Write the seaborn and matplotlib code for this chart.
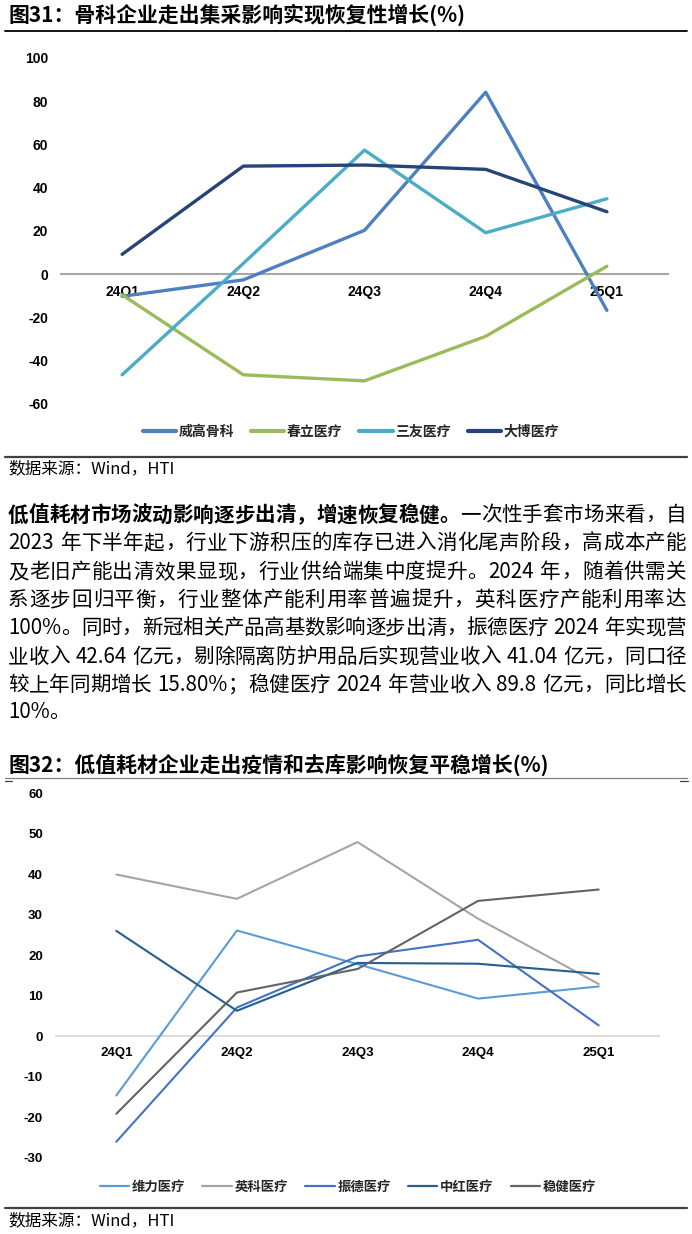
import numpy as np
import pandas as pd
import matplotlib
matplotlib.use("Agg")
import matplotlib.pyplot as plt
from matplotlib.lines import Line2D
import seaborn as sns

# ==========================
# Data
# ==========================
quarters = ["24Q1", "24Q2", "24Q3", "24Q4", "25Q1"]

ortho_names = ["威高骨科", "春立医疗", "三友医疗", "大博医疗"]
weigao = [-10.2, -2.6, 20.3, 84.2, -16.7]
chunli = [-9.5, -46.5, -49.3, -28.7, 3.7]
sanyou = [-46.5, 5.0, 57.4, 19.2, 34.9]
dabo = [9.2, 50.0, 50.5, 48.5, 28.9]

low_names = ["维力医疗", "英科医疗", "振德医疗", "中红医疗", "稳健医疗"]
weili = [-14.6, 26.1, 17.8, 9.3, 12.3]
yingke = [39.9, 33.9, 47.9, 29.0, 12.9]
zhende = [-26.0, 7.1, 19.7, 23.8, 2.7]
zhonghong = [26.0, 6.3, 18.1, 17.9, 15.4]
wenjian = [-19.1, 10.8, 16.6, 33.4, 36.2]

title1 = "图31：骨科企业走出集采影响实现恢复性增长(%)"
title2 = "图32：低值耗材企业走出疫情和去库影响恢复平稳增长(%)"
source = "数据来源：Wind，HTI"

para_bold = "低值耗材市场波动影响逐步出清，增速恢复稳健。"
para_lines = [
    "一次性手套市场来看，自",
    "2023 年下半年起，行业下游积压的库存已进入消化尾声阶段，高成本产能",
    "及老旧产能出清效果显现，行业供给端集中度提升。2024 年，随着供需关",
    "系逐步回归平衡，行业整体产能利用率普遍提升，英科医疗产能利用率达",
    "100%。同时，新冠相关产品高基数影响逐步出清，振德医疗 2024 年实现营",
    "业收入 42.64 亿元，剔除隔离防护用品后实现营业收入 41.04 亿元，同口径",
    "较上年同期增长 15.80%；稳健医疗 2024 年营业收入 89.8 亿元，同比增长",
    "10%。",
]

# ==========================
# Style
# ==========================
sns.set_theme(style="white")
plt.rcParams["font.family"] = ["Noto Sans CJK SC", "DejaVu Sans"]
plt.rcParams["axes.unicode_minus"] = False

W, H = 692, 1234
fig = plt.figure(figsize=(W / 100, H / 100), dpi=100)


def fx(x):
    return x / W


def fy(y):
    return 1 - y / H


def hline(y, x0=5, x1=687, color="black", lw=1.2):
    fig.add_artist(Line2D([fx(x0), fx(x1)], [fy(y), fy(y)],
                          transform=fig.transFigure, color=color, linewidth=lw))


def long_table(names, series):
    rows = []
    for name, vals in zip(names, series):
        for i, v in enumerate(vals):
            rows.append({"company": name, "x": i, "value": v})
    return pd.DataFrame(rows)


def draw_chart(ax, names, series, colors, lw, yticks, tick_size,
               zero_color, zero_lw, ypad, xpad):
    df = long_table(names, series)
    sns.lineplot(data=df, x="x", y="value", hue="company", hue_order=names,
                 palette=colors, linewidth=lw, sort=False, legend=False,
                 ax=ax, zorder=3)
    ax.set_xlim(-0.5, 4.5)
    ax.set_ylim(yticks[0], yticks[-1])
    ax.set_yticks(yticks)
    ax.set_xticks(range(len(quarters)))
    ax.set_xticklabels(quarters)
    for s in ["top", "right", "left"]:
        ax.spines[s].set_visible(False)
    ax.spines["bottom"].set_position(("data", 0))
    ax.spines["bottom"].set_color(zero_color)
    ax.spines["bottom"].set_linewidth(zero_lw)
    ax.spines["bottom"].set_zorder(1)
    ax.tick_params(axis="both", length=0, labelsize=tick_size, colors="black")
    ax.tick_params(axis="y", pad=ypad)
    ax.tick_params(axis="x", pad=xpad)
    ax.set_xlabel("")
    ax.set_ylabel("")
    for lab in ax.get_xticklabels() + ax.get_yticklabels():
        lab.set_fontfamily(["Liberation Sans", "DejaVu Sans"])
        lab.set_fontweight("bold")


def add_legend(ax, names, colors, lw, cx, cy, size, hlen, cspace):
    handles = [Line2D([0], [0], color=c, linewidth=lw) for c in colors]
    ax.legend(handles, names, loc="center", bbox_to_anchor=(fx(cx), fy(cy)),
              bbox_transform=fig.transFigure, ncol=len(names), frameon=False,
              prop={"family": ["Noto Sans CJK SC"], "weight": "bold", "size": size},
              handlelength=hlen, handletextpad=0.2, columnspacing=cspace,
              borderpad=0, borderaxespad=0)


# ============================================================
# Chart 1
# ============================================================
fig.text(fx(8), fy(15), title1, fontsize=15, fontweight="bold",
         va="center", ha="left", color="black")
hline(31, lw=1.3)

ax1 = fig.add_axes([fx(61.5), fy(404), (667.5 - 61.5) / W, (404 - 58) / H])
colors1 = ["#4E7FC0", "#9BBB59", "#4BACC6", "#264478"]
draw_chart(ax1, ortho_names, [weigao, chunli, sanyou, dabo], colors1, 2.4,
           list(range(-60, 101, 20)), 10, "#A6A6A6", 1.5, 9.5, 8)
add_legend(ax1, ortho_names, colors1, 3, 351, 432, 10, 2.4, 1.2)

hline(457, color="#404040", lw=1.6)
fig.text(fx(8), fy(469), source, fontsize=12, va="center", ha="left", color="black")

# ============================================================
# Paragraph
# ============================================================
renderer = fig.canvas.get_renderer()
para_size = 14.8
space_px = 0.3 * para_size * 100 / 72


def split_tokens(text, weight):
    tokens = []
    buf = ""
    for ch in text:
        if ch == " ":
            if buf:
                tokens.append((buf, weight))
                buf = ""
            tokens.append((" ", weight))
        elif ord(ch) < 128:
            buf += ch
        else:
            if buf:
                tokens.append((buf, weight))
                buf = ""
            tokens.append((ch, weight))
    if buf:
        tokens.append((buf, weight))
    return tokens


def put_line(tokens, y, x0=8, x1=686, justify=True):
    arts, widths = [], []
    for t, w in tokens:
        if t == " ":
            arts.append(None)
            widths.append(space_px)
            continue
        a = fig.text(0, fy(y), t, fontsize=para_size, fontweight=w,
                     va="center", ha="left", color="black")
        arts.append(a)
        widths.append(a.get_window_extent(renderer).width)
    gap = 0
    if justify and len(tokens) > 1:
        gap = (x1 - x0 - sum(widths)) / (len(tokens) - 1)
    x = x0
    for a, wd in zip(arts, widths):
        if a is not None:
            a.set_x(fx(x))
        x += wd + gap


para_y = [515, 543, 572, 600, 628, 657, 685, 712]
for i, line in enumerate(para_lines):
    toks = split_tokens(line, "normal")
    if i == 0:
        toks = split_tokens(para_bold, "bold") + toks
    put_line(toks, para_y[i], justify=(i < len(para_lines) - 1))

# ============================================================
# Chart 2
# ============================================================
fig.text(fx(8), fy(765), title2, fontsize=15, fontweight="bold",
         va="center", ha="left", color="black")
hline(778, color="#808080", lw=0.9)
hline(781, x0=5, x1=12, color="#404040", lw=0.9)
hline(781, x0=680, x1=688, color="#404040", lw=0.9)

ax2 = fig.add_axes([fx(56), fy(1158), (659 - 56) / W, (1158 - 793) / H])
colors2 = ["#5B9BD5", "#A5A5A5", "#4472C4", "#255E91", "#636363"]
draw_chart(ax2, low_names, [weili, yingke, zhende, zhonghong, wenjian], colors2,
           1.5, list(range(-30, 61, 10)), 9.5, "#D9D9D9", 1.3, 9.5, 8)
add_legend(ax2, low_names, colors2, 1.6, 348, 1187, 9.6, 2.2, 1.3)

hline(1208, color="#404040", lw=1.6)
fig.text(fx(8), fy(1221), source, fontsize=12, va="center", ha="left", color="black")

fig.savefig("out.png", dpi=100)
